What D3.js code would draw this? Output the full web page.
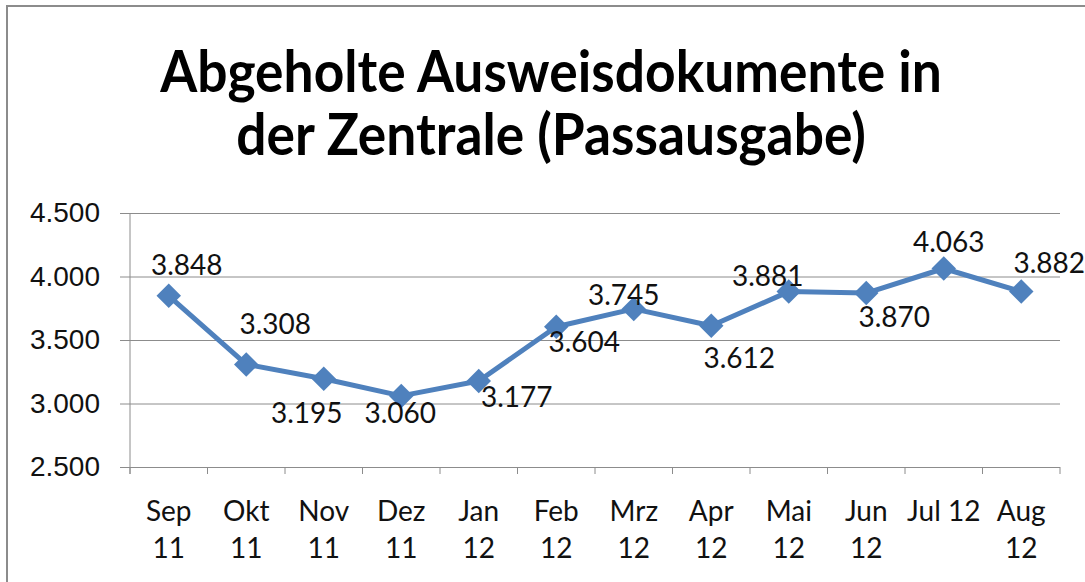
<!DOCTYPE html>
<html>
<head>
<meta charset="utf-8">
<script src="https://cdn.jsdelivr.net/npm/d3@7"></script>
<style>
  body { margin: 0; background: #fff; }
  svg { display: block; font-family: Lato, "Open Sans", sans-serif; }
</style>
</head>
<body>
<div class="chart"></div>
<script>
// data
const months = ['Sep 11', 'Okt 11', 'Nov 11', 'Dez 11', 'Jan 12', 'Feb 12',
                'Mrz 12', 'Apr 12', 'Mai 12', 'Jun 12', 'Jul 12', 'Aug 12'];
const pickups = [3848, 3308, 3195, 3060, 3177, 3604, 3745, 3612, 3881, 3870, 4063, 3882];
const yTicks = [2500, 3000, 3500, 4000, 4500];
// x labels wrapped the way the picture wraps them
const monthLines = [['Sep', '11'], ['Okt', '11'], ['Nov', '11'], ['Dez', '11'], ['Jan', '12'],
                    ['Feb', '12'], ['Mrz', '12'], ['Apr', '12'], ['Mai', '12'], ['Jun', '12'],
                    ['Jul 12'], ['Aug', '12']];
const titleLines = ['Abgeholte Ausweisdokumente in', 'der Zentrale (Passausgabe)'];

// where each data label sits relative to its point (px)
const labelOffset = [[18, -21], [29, -30], [-17, 44], [-1, 27], [38, 26], [28, 25],
                     [-10, -4], [28, 42], [-21, -6], [28, 34], [5, -16], [28, -18]];

const width = 1085;
const height = 582;
const margin = {top: 213, left: 130, right: 25, bottom: 115};

const svg = d3.select('.chart').append('svg')
  .attr('width', width)
  .attr('height', height);

// outer frame
svg.append('rect')
  .attr('x', 7).attr('y', 6)
  .attr('width', 1120).attr('height', 620)
  .attr('fill', '#fff')
  .attr('stroke', '#8c8c8c')
  .attr('stroke-width', 2);

const x = d3.scaleBand()
  .domain(months)
  .range([margin.left, width - margin.right]);

const y = d3.scaleLinear()
  .domain([2500, 4500])
  .range([height - margin.bottom, margin.top]);

const fmt = d3.formatLocale({decimal: ',', thousands: '.', grouping: [3], currency: ['', '€']}).format(',.0f');

// gridlines + y axis
const yAxis = d3.axisLeft(y)
  .tickValues(yTicks)
  .tickSize(-(x.range()[1] - x.range()[0]))
  .tickPadding(30)
  .tickFormat(fmt);

svg.append('g')
  .attr('transform', `translate(${margin.left},0)`)
  .call(yAxis)
  .call(g => g.select('.domain').remove())
  .call(g => g.selectAll('.tick line')
    .attr('x1', -10)
    .attr('stroke', '#8c8c8c'))
  .call(g => g.selectAll('.tick text')
    .attr('fill', '#111')
    .attr('font-size', 28));

// left axis line
svg.append('line')
  .attr('x1', margin.left).attr('x2', margin.left)
  .attr('y1', margin.top).attr('y2', y(2500) + 7)
  .attr('stroke', '#8c8c8c');

// category ticks on the bottom axis
const boundaries = months.map(m => x(m)).concat([x.range()[1]]);
svg.append('g')
  .selectAll('line')
  .data(boundaries)
  .enter()
  .append('line')
  .attr('x1', d => d).attr('x2', d => d)
  .attr('y1', y(2500)).attr('y2', y(2500) + 7)
  .attr('stroke', '#8c8c8c');

// x labels
svg.append('g')
  .selectAll('text')
  .data(monthLines)
  .enter()
  .append('text')
  .attr('text-anchor', 'middle')
  .attr('font-size', 28)
  .attr('fill', '#111')
  .attr('x', (d, i) => x(months[i]) + x.bandwidth() / 2)
  .attr('y', 521)
  .selectAll('tspan')
  .data(d => d)
  .enter()
  .append('tspan')
  .attr('x', function() { return this.parentNode.getAttribute('x'); })
  .attr('dy', (d, i) => i === 0 ? 0 : 37)
  .text(d => d);

// line
const cx = (d, i) => x(months[i]) + x.bandwidth() / 2;
const line = d3.line()
  .x(cx)
  .y(d => y(d));

svg.append('path')
  .datum(pickups)
  .attr('d', line)
  .attr('fill', 'none')
  .attr('stroke', '#4f81bd')
  .attr('stroke-width', 5)
  .attr('stroke-linejoin', 'round');

// diamond markers
svg.append('g')
  .selectAll('path')
  .data(pickups)
  .enter()
  .append('path')
  .attr('d', d3.symbol().type(d3.symbolSquare).size(300))
  .attr('transform', (d, i) => `translate(${cx(d, i)},${y(d)}) rotate(45)`)
  .attr('fill', '#4f81bd');

// data labels
svg.append('g')
  .selectAll('text')
  .data(pickups)
  .enter()
  .append('text')
  .attr('text-anchor', 'middle')
  .attr('font-size', 28)
  .attr('fill', '#111')
  .attr('x', (d, i) => cx(d, i) + labelOffset[i][0])
  .attr('y', (d, i) => y(d) + labelOffset[i][1])
  .text(d => fmt(d));

// title, squeezed a little to match the narrower original face
svg.append('g')
  .attr('transform', 'translate(551,0) scale(0.92,1)')
  .selectAll('text')
  .data(titleLines)
  .enter()
  .append('text')
  .attr('text-anchor', 'middle')
  .attr('font-size', 58)
  .attr('font-weight', 'bold')
  .attr('fill', '#000')
  .attr('x', 0)
  .attr('y', (d, i) => 92 + i * 63)
  .text(d => d);
</script>
</body>
</html>
